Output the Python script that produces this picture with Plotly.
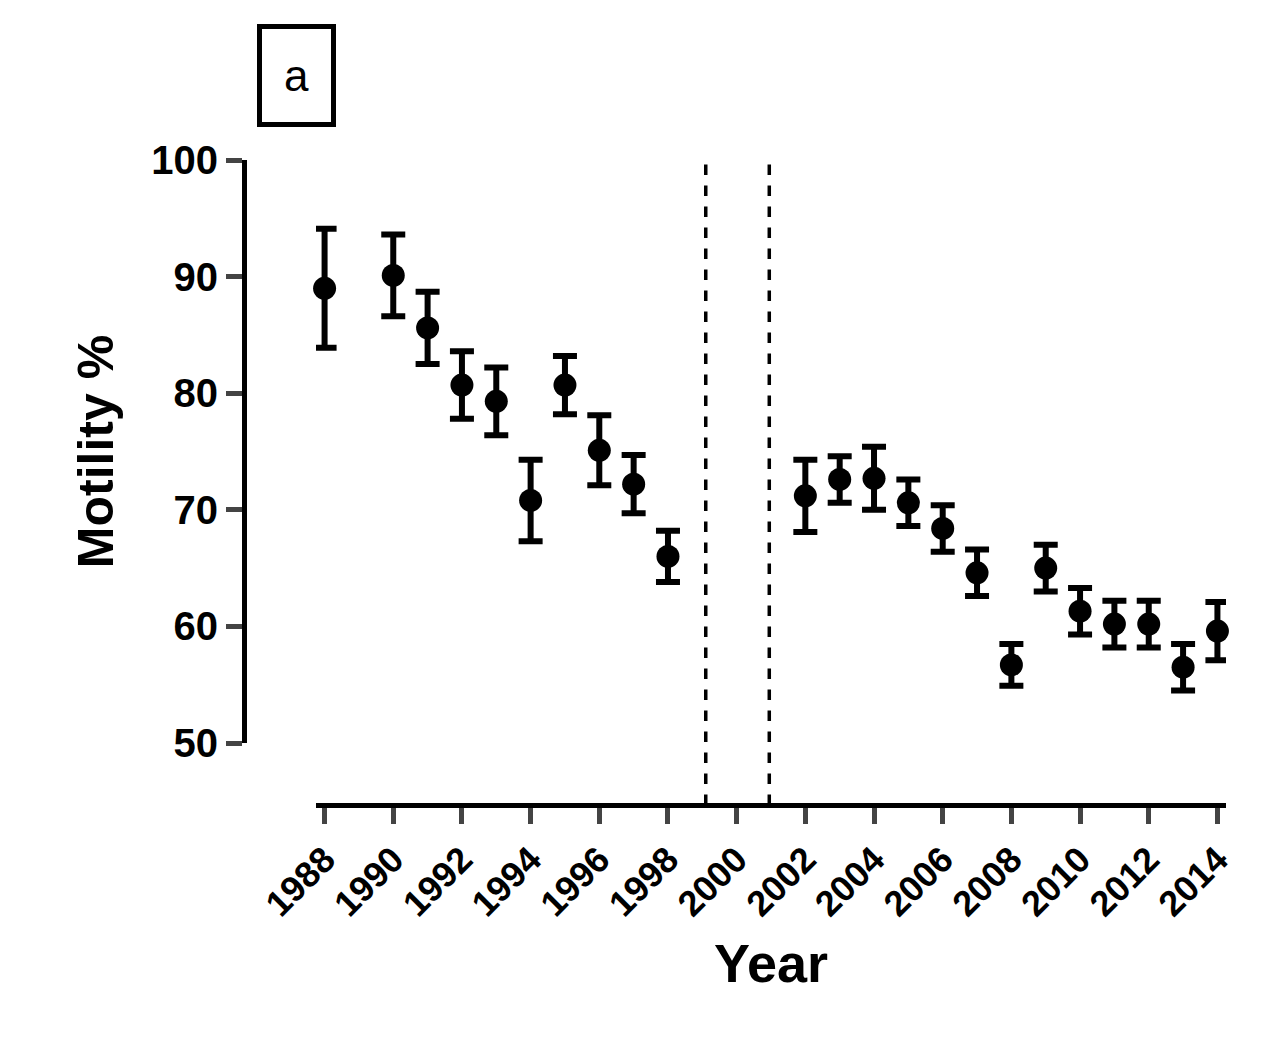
import plotly.graph_objects as go

years = [1988, 1990, 1991, 1992, 1993, 1994, 1995, 1996, 1997, 1998,
         2002, 2003, 2004, 2005, 2006, 2007, 2008, 2009, 2010, 2011, 2012, 2013, 2014]
motility = [89.0, 90.1, 85.6, 80.7, 79.3, 70.8, 80.7, 75.1, 72.2, 66.0,
            71.2, 72.6, 72.7, 70.6, 68.4, 64.6, 56.7, 65.0, 61.3, 60.2, 60.2, 56.5, 59.6]
err = [5.1, 3.5, 3.1, 2.9, 2.9, 3.5, 2.5, 3.0, 2.5, 2.2,
       3.1, 2.0, 2.7, 2.0, 2.0, 2.0, 1.8, 2.0, 2.0, 2.0, 2.0, 2.0, 2.5]
x_ticks = list(range(1988, 2015, 2))
dash_years = [1999.1, 2000.95]

font = "Liberation Sans, Arial"

fig = go.Figure()
fig.add_trace(go.Scatter(
    x=years, y=motility, mode="markers", cliponaxis=False,
    marker=dict(color="black", size=23),
    error_y=dict(type="data", array=err, color="black", thickness=6, width=12),
    showlegend=False))

for xv in dash_years:
    fig.add_shape(type="line", x0=xv, x1=xv, y0=0, y1=1, xref="x", yref="paper",
                  line=dict(color="black", width=3.5, dash="dash"))

fig.add_annotation(text="a", xref="paper", yref="paper",
                   x=(288 - 236) / 982, y=(797 - 68) / 645, showarrow=False,
                   font=dict(family=font, size=44, color="black"),
                   bordercolor="black", borderwidth=5, borderpad=22,
                   xanchor="center", yanchor="middle")

fig.update_layout(
    width=1280, height=1055, plot_bgcolor="white", paper_bgcolor="white",
    margin=dict(l=236, r=62, t=152, b=258),
    font=dict(family=font, color="black"),
    xaxis=dict(domain=[72 / 982, 1], range=[1987.75, 2014.25], anchor="free", position=0,
               tickvals=x_ticks, tickangle=-45, showline=True, linecolor="black",
               linewidth=5, ticks="outside", ticklen=16, tickwidth=5,
               showgrid=False, zeroline=False,
               tickfont=dict(size=36, family=font, weight="bold"),
               title=dict(text="Year", font=dict(size=54, weight="bold"), standoff=20)),
    yaxis=dict(domain=[62 / 645, 1], range=[50, 100], anchor="free", position=0,
               tickvals=[50, 60, 70, 80, 90, 100], showline=True, linecolor="black",
               linewidth=5, ticks="outside", ticklen=16, tickwidth=5,
               showgrid=False, zeroline=False,
               tickfont=dict(size=40, family=font, weight="bold"),
               title=dict(text="Motility %", font=dict(size=50, weight="bold"), standoff=20)),
)

fig.write_html("out.html")
